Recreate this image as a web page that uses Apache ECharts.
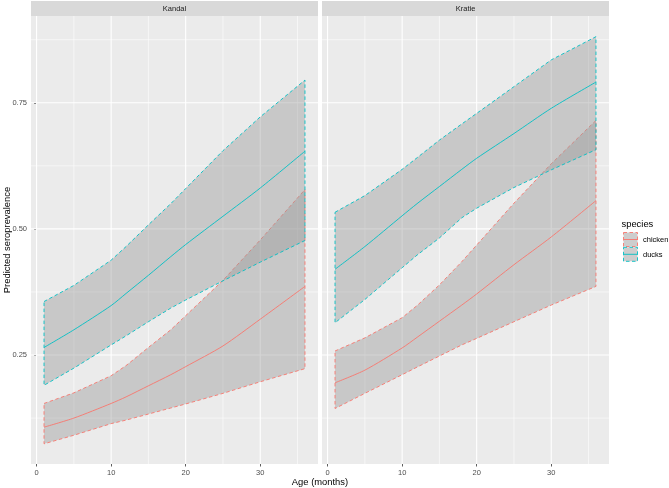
<!DOCTYPE html>
<html><head><meta charset="utf-8">
<script src="https://cdn.jsdelivr.net/npm/echarts@6/dist/echarts.min.js"></script>
<style>html,body{margin:0;padding:0;background:#fff}#c{width:669px;height:488px}</style>
</head><body><div id="c"></div>
<script>
// ---- data ----
const ages = [1, 5, 10, 12, 15, 18, 20, 25, 30, 36];
const panels = ['Kandal', 'Kratie'];
const speciesNames = ['chicken', 'ducks'];

const kandalChickenLow  = [0.074, 0.091, 0.114, 0.121, 0.133, 0.145, 0.153, 0.174, 0.197, 0.223];
const kandalChickenMean = [0.107, 0.125, 0.154, 0.167, 0.189, 0.211, 0.227, 0.268, 0.321, 0.386];
const kandalChickenHigh = [0.154, 0.175, 0.209, 0.229, 0.265, 0.300, 0.328, 0.398, 0.478, 0.578];
const kandalDucksLow    = [0.190, 0.224, 0.270, 0.288, 0.316, 0.343, 0.359, 0.397, 0.434, 0.477];
const kandalDucksMean   = [0.265, 0.300, 0.348, 0.372, 0.408, 0.445, 0.469, 0.525, 0.581, 0.654];
const kandalDucksHigh   = [0.356, 0.388, 0.438, 0.465, 0.508, 0.550, 0.580, 0.655, 0.722, 0.795];

const kratieChickenLow  = [0.144, 0.174, 0.211, 0.226, 0.248, 0.270, 0.283, 0.316, 0.349, 0.386];
const kratieChickenMean = [0.195, 0.220, 0.264, 0.285, 0.317, 0.349, 0.371, 0.429, 0.484, 0.556];
const kratieChickenHigh = [0.258, 0.284, 0.324, 0.348, 0.389, 0.435, 0.468, 0.551, 0.629, 0.715];
const kratieDucksLow    = [0.314, 0.360, 0.423, 0.448, 0.482, 0.522, 0.541, 0.582, 0.617, 0.657];
const kratieDucksMean   = [0.420, 0.465, 0.526, 0.550, 0.584, 0.618, 0.640, 0.689, 0.739, 0.791];
const kratieDucksHigh   = [0.533, 0.566, 0.618, 0.641, 0.676, 0.708, 0.729, 0.782, 0.835, 0.881];

const yTicks = [0.25, 0.5, 0.75];
const yMinor = [0.125, 0.375, 0.625, 0.875];
const xTicks = [0, 10, 20, 30];
const xMinor = [5, 15, 25, 35];

// ---- layout / style ----
const X_MIN = -0.75, X_MAX = 37.75, Y_MIN = 0.034, Y_MAX = 0.922;
const COL = { chicken: '#F8766D', ducks: '#00BFC4' };
const BAND_FILL = 'rgba(153,153,153,0.42)';
const DASH = [3.5, 2.5];
const FONT = '"Liberation Sans", Arial, sans-serif';
const gridBoxes = [
  { left: 31, top: 16, width: 287, height: 448 },
  { left: 322, top: 16, width: 287, height: 448 }
];
const panelData = [
  { chicken: [kandalChickenLow, kandalChickenMean, kandalChickenHigh], ducks: [kandalDucksLow, kandalDucksMean, kandalDucksHigh] },
  { chicken: [kratieChickenLow, kratieChickenMean, kratieChickenHigh], ducks: [kratieDucksLow, kratieDucksMean, kratieDucksHigh] }
];

function gridLineSeries(gi) {
  return {
    type: 'custom', xAxisIndex: gi, yAxisIndex: gi, silent: true, z: 1, clip: false,
    data: [[X_MIN, Y_MIN]],
    renderItem: function (params, api) {
      const ch = [];
      const add = (a, b, w) => ch.push({ type: 'line', shape: { x1: a[0], y1: a[1], x2: b[0], y2: b[1] }, style: { stroke: '#FFFFFF', lineWidth: w } });
      yMinor.forEach(v => add(api.coord([X_MIN, v]), api.coord([X_MAX, v]), 0.55));
      xMinor.forEach(v => add(api.coord([v, Y_MIN]), api.coord([v, Y_MAX]), 0.55));
      yTicks.forEach(v => add(api.coord([X_MIN, v]), api.coord([X_MAX, v]), 1.1));
      xTicks.forEach(v => add(api.coord([v, Y_MIN]), api.coord([v, Y_MAX]), 1.1));
      return { type: 'group', children: ch };
    }
  };
}

function bandSeries(gi, sp) {
  const lo = panelData[gi][sp][0], hi = panelData[gi][sp][2];
  return {
    type: 'custom', name: sp, xAxisIndex: gi, yAxisIndex: gi, silent: true, z: 2,
    data: ages.map((a, i) => [a, lo[i], hi[i]]),
    encode: { x: 0, y: [1, 2] },
    renderItem: function (params, api) {
      if (params.dataIndex !== 0) return null;
      const pts = [];
      for (let i = 0; i < ages.length; i++) pts.push(api.coord([ages[i], hi[i]]));
      for (let i = ages.length - 1; i >= 0; i--) pts.push(api.coord([ages[i], lo[i]]));
      return { type: 'polygon', shape: { points: pts }, style: { fill: BAND_FILL, stroke: COL[sp], lineWidth: 0.9, lineDash: DASH } };
    }
  };
}

function meanSeries(gi, sp) {
  const m = panelData[gi][sp][1];
  return {
    type: 'line', name: sp, xAxisIndex: gi, yAxisIndex: gi, silent: true, z: 3,
    data: ages.map((a, i) => [a, m[i]]),
    showSymbol: false, symbol: 'none', smooth: 0.25,
    lineStyle: { color: COL[sp], width: 0.9 }
  };
}

const xAxes = [0, 1].map(gi => ({
  type: 'value', gridIndex: gi, min: X_MIN, max: X_MAX,
  axisLine: { show: false }, splitLine: { show: false },
  axisTick: { show: true, customValues: xTicks, length: 2.5, lineStyle: { color: '#333333', width: 0.8 } },
  axisLabel: { show: true, customValues: xTicks, margin: 4.5, fontSize: 7.5, color: '#4D4D4D', fontFamily: FONT }
}));
const yAxes = [0, 1].map(gi => ({
  type: 'value', gridIndex: gi, min: Y_MIN, max: Y_MAX,
  axisLine: { show: false }, splitLine: { show: false },
  axisTick: { show: gi === 0, customValues: yTicks, length: 2.5, lineStyle: { color: '#333333', width: 0.8 } },
  axisLabel: { show: gi === 0, customValues: yTicks, margin: 4, fontSize: 7.5, color: '#4D4D4D', fontFamily: FONT,
    formatter: v => v.toFixed(2) }
}));

const series = [];
[0, 1].forEach(gi => {
  series.push(gridLineSeries(gi));
  speciesNames.forEach(sp => series.push(bandSeries(gi, sp)));
  speciesNames.forEach(sp => series.push(meanSeries(gi, sp)));
});

const graphic = [];
panels.forEach((p, gi) => {
  const g = gridBoxes[gi];
  graphic.push({ type: 'rect', silent: true, shape: { x: g.left, y: 1, width: g.width, height: 15 }, style: { fill: '#D9D9D9' } });
  graphic.push({ type: 'text', silent: true, x: g.left + g.width / 2, y: 8.7,
    style: { text: p, fontSize: 7.5, fontFamily: FONT, fill: '#1A1A1A', align: 'center', verticalAlign: 'middle' } });
});
graphic.push({ type: 'text', silent: true, x: 7, y: 240, rotation: Math.PI / 2,
  style: { text: 'Predicted seroprevalence', fontSize: 9.4, fontFamily: FONT, fill: '#000', align: 'center', verticalAlign: 'middle' } });
graphic.push({ type: 'text', silent: true, x: 320, y: 482.5,
  style: { text: 'Age (months)', fontSize: 9.4, fontFamily: FONT, fill: '#000', align: 'center', verticalAlign: 'middle' } });
graphic.push({ type: 'text', silent: true, x: 621.5, y: 224,
  style: { text: 'species', fontSize: 9.4, fontFamily: FONT, fill: '#000', align: 'left', verticalAlign: 'middle' } });
speciesNames.forEach((sp, i) => {
  const y0 = 232.5 + i * 14.8;
  graphic.push({ type: 'rect', silent: true, shape: { x: 623.5, y: y0, width: 14, height: 14 },
    style: { fill: '#CDCDCD', stroke: COL[sp], lineWidth: 0.9, lineDash: DASH } });
  graphic.push({ type: 'line', silent: true, shape: { x1: 624, y1: y0 + 7, x2: 637.5, y2: y0 + 7 },
    style: { stroke: COL[sp], lineWidth: 0.9 } });
  graphic.push({ type: 'text', silent: true, x: 643, y: y0 + 7.5,
    style: { text: sp, fontSize: 7.5, fontFamily: FONT, fill: '#000', align: 'left', verticalAlign: 'middle' } });
});

const chart = echarts.init(document.getElementById('c'), null, { renderer: 'canvas' });
chart.setOption({
  animation: false,
  backgroundColor: '#FFFFFF',
  grid: gridBoxes.map(g => Object.assign({ show: true, backgroundColor: '#EBEBEB', borderWidth: 0, containLabel: false }, g)),
  xAxis: xAxes,
  yAxis: yAxes,
  series: series,
  graphic: graphic
});
</script></body></html>
